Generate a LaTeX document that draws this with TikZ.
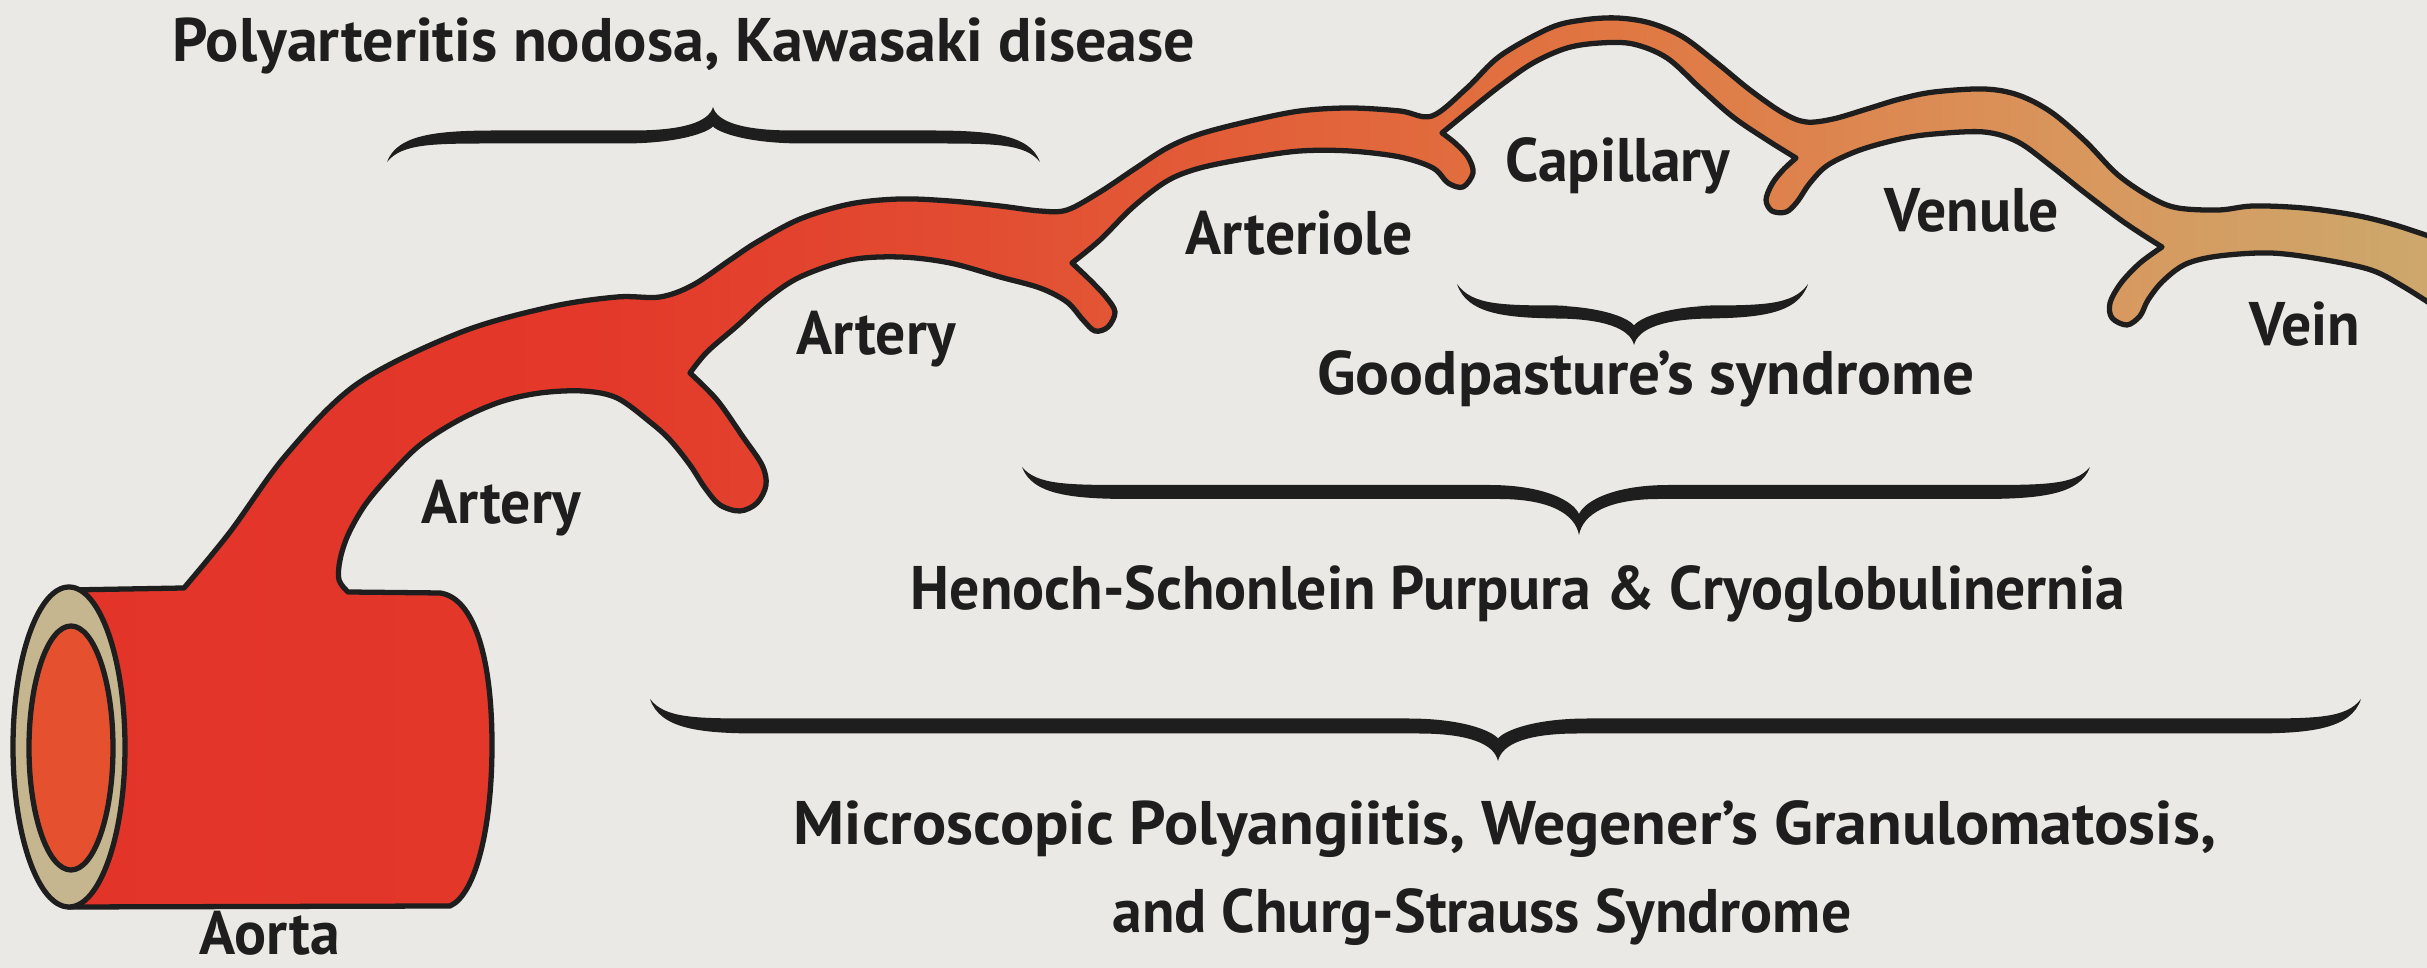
\documentclass[tikz,border=0pt]{standalone}
\usepackage{fontspec}
\newfontfamily\labelfont{PT Sans}[FakeStretch=0.97]

\definecolor{paper}{HTML}{EBE9E5}
\definecolor{ink}{HTML}{1E1E1E}
\definecolor{ringtan}{HTML}{C6B690}
\definecolor{lumen}{HTML}{E5512F}
\definecolor{vA}{HTML}{E3342A}
\definecolor{vB}{HTML}{E3382A}
\definecolor{vC}{HTML}{E24E32}
\definecolor{vD}{HTML}{E2623A}
\definecolor{vE}{HTML}{E07642}
\definecolor{vF}{HTML}{DD8650}
\definecolor{vG}{HTML}{D8985E}
\definecolor{vH}{HTML}{CCA86C}

% colour runs from the red aorta to the tan vein, left to right
\pgfdeclarehorizontalshading{vesselshade}{100bp}{color(0bp)=(vA); color(25bp)=(vA);
  color(36bp)=(vB); color(44.6bp)=(vC); color(51bp)=(vD); color(57.3bp)=(vE);
  color(62.6bp)=(vF); color(67.8bp)=(vG); color(75bp)=(vH); color(100bp)=(vH)}

% tapered curly brace: #1 left x, #2 right x, #3 bar y, #4 tip x, #5 tip depth,
% #6 hook height, #7 thickness, #8 direction (+1 tip down, -1 tip up)
\newcommand\curlybrace[8]{%
  \fill[ink] (#1,{#3-#8*#6})
    .. controls ({#1+15},{#3-#8*#7*0.5}) and ({#1+45},{#3-#8*#7*0.5}) .. ({#1+110},{#3-#8*#7*0.5})
    -- ({#4-90},{#3-#8*#7*0.5})
    .. controls ({#4-35},{#3-#8*#7*0.5}) and ({#4-6},{#3+#8*(#5-1.5*#7)*0.4}) .. (#4,{#3+#8*(#5-1.5*#7)})
    .. controls ({#4+6},{#3+#8*(#5-1.5*#7)*0.4}) and ({#4+35},{#3-#8*#7*0.5}) .. ({#4+90},{#3-#8*#7*0.5})
    -- ({#2-110},{#3-#8*#7*0.5})
    .. controls ({#2-45},{#3-#8*#7*0.5}) and ({#2-15},{#3-#8*#7*0.5}) .. (#2,{#3-#8*#6})
    .. controls ({#2-10},{#3+#8*#7*0.2}) and ({#2-50},{#3+#8*#7*0.5}) .. ({#2-110},{#3+#8*#7*0.5})
    -- ({#4+80},{#3+#8*#7*0.5})
    .. controls ({#4+30},{#3+#8*#7*0.5}) and ({#4+4},{#3+#8*#5*0.5}) .. (#4,{#3+#8*#5})
    .. controls ({#4-4},{#3+#8*#5*0.5}) and ({#4-30},{#3+#8*#7*0.5}) .. ({#4-80},{#3+#8*#7*0.5})
    -- ({#1+110},{#3+#8*#7*0.5})
    .. controls ({#1+50},{#3+#8*#7*0.5}) and ({#1+10},{#3+#8*#7*0.2}) .. cycle;
}

\begin{document}
\begin{tikzpicture}[x=0.01cm, y=-0.01cm,
  lbl/.style={font=\labelfont\bfseries\fontsize{17.5pt}{21pt}\selectfont,
    text=ink, inner sep=0pt, anchor=base},
  outline/.style={draw=ink, line width=1.5pt, line join=round}]

\useasboundingbox (0,0) rectangle (2427,968);
\fill[paper] (0,0) rectangle (2427,968);

% aorta body, artery, arteriole, capillary, venule and vein as one outline
\shadedraw[shading=vesselshade, outline]
  (69,590) -- (184,588)
  -- plot[smooth, tension=0.55] coordinates {(184,588) (230,532) (286,455) (357,384)
     (459,333) (550,307) (617,297) (660,297) (693,285) (730,260) (757,242) (800,219)
     (850,204) (900,199) (950,201) (1000,206) (1040,211) (1067,210) (1100,192)
     (1133,170) (1167,148) (1200,134) (1250,121) (1300,111) (1350,108) (1400,111)
     (1432,116) (1467,88) (1500,56) (1550,28) (1583,20) (1617,18) (1650,23) (1683,37)
     (1717,63) (1750,90) (1783,113) (1806,122) (1833,119) (1867,109) (1900,99)
     (1934,92) (1984,89) (2018,95) (2051,112) (2085,141) (2118,175) (2152,198)
     (2178,208) (2219,210) (2253,206) (2303,208) (2354,215) (2395,225) (2440,240)}
  -- (2440,310)
  -- plot[smooth, tension=0.55] coordinates {(2440,310) (2404,287) (2371,270) (2320,259)
     (2270,253) (2219,256) (2186,264) (2163,281) (2148,300) (2140,316) (2127,325)
     (2112,318) (2110,303) (2121,283) (2140,263) (2162,247)}
  -- plot[smooth, tension=0.55] coordinates {(2162,247) (2140,233) (2118,218) (2085,193)
     (2051,166) (2018,142) (1984,132) (1934,134) (1900,139) (1860,150) (1828,165)
     (1810,183) (1797,202) (1786,212) (1772,211) (1766,200) (1772,184) (1783,170)
     (1796,158)}
  -- plot[smooth, tension=0.55] coordinates {(1796,158) (1767,140) (1733,117) (1700,88)
     (1667,58) (1633,44) (1600,43) (1567,48) (1533,63) (1500,86) (1470,110) (1442,133)}
  -- plot[smooth, tension=0.55] coordinates {(1442,133) (1455,143) (1468,157) (1473,173)
     (1463,187) (1448,183) (1433,168) (1400,157) (1350,151) (1300,151) (1250,158)
     (1200,168) (1167,181) (1133,207) (1100,240) (1072,263)}
  -- plot[smooth, tension=0.55] coordinates {(1072,263) (1090,280) (1106,297) (1115,312)
     (1108,327) (1095,331) (1083,320) (1067,302) (1040,288) (1000,277) (950,263)
     (900,257) (850,260) (800,277) (767,299) (737,326) (707,352) (690,373)}
  -- plot[smooth, tension=0.55] coordinates {(690,373) (717,400) (743,437) (762,465)
     (766,485) (757,503) (740,511) (720,505) (705,488) (690,465) (670,440) (650,422)
     (617,398) (583,391) (540,393) (500,402) (459,420) (420,445) (390,475) (365,505)
     (348,535) (340,560) (339,580) (348,592)}
  -- (440,593) .. controls (475,598) and (492,660) .. (492,745)
  .. controls (492,830) and (475,895) .. (450,906) -- (69,907) -- cycle;

% cut end of the aorta: wall and lumen
\filldraw[fill=ringtan, outline] (69,747) ellipse [x radius=56, y radius=160];
\filldraw[fill=lumen, outline] (71,748) ellipse [x radius=42, y radius=122];

% braces grouping the vessel sizes
\curlybrace{387}{1040}{137}{713}{30}{25}{13}{-1}
\curlybrace{1457}{1808}{312}{1634}{33}{28}{13}{1}
\curlybrace{1022}{2090}{492}{1579}{43}{25}{14}{1}
\curlybrace{650}{2361}{726}{1498}{35}{27}{15}{1}

% vessel names
\node[lbl] (aorta) at (270,955) {Aorta};
\node[lbl] (artery1) at (501,524) {Artery};
\node[lbl] (artery2) at (876,355) {Artery};
\node[lbl] (arteriole) at (1299,255) {Arteriole};
\node[lbl] (capillary) at (1618,182) {Capillary};
\node[lbl] (venule) at (1972,232) {Venule};
\node[lbl] (vein) at (2305,346) {Vein};

% diseases
\node[lbl, xscale=1.04, transform shape] (pan) at (684,62) {Polyarteritis nodosa, Kawasaki disease};
\node[lbl, xscale=1.06, transform shape] (gps) at (1646,395) {Goodpasture’s syndrome};
\node[lbl] (hsp) at (1518,610) {Henoch-Schonlein Purpura \& Cryoglobulinernia};
\node[lbl, xscale=1.07, transform shape] (mpa) at (1505,845) {Microscopic Polyangiitis, Wegener’s Granulomatosis,};
\node[lbl] (css) at (1482,933) {and Churg-Strauss Syndrome};
\end{tikzpicture}
\end{document}
